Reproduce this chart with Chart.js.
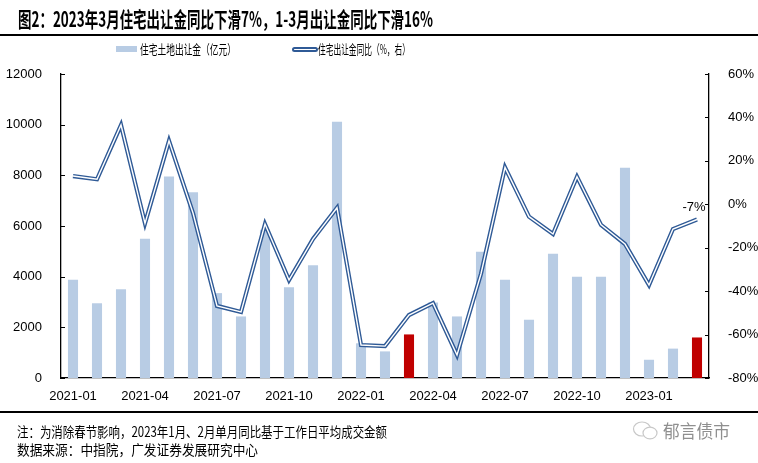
<!DOCTYPE html>
<html>
<head>
<meta charset="utf-8">
<script src="https://cdn.jsdelivr.net/npm/chart.js@4.4.1/dist/chart.umd.min.js"></script>
<style>
body{margin:0;background:#fff;}
#wrap{position:relative;width:758px;height:463px;overflow:hidden;font-family:"Noto Sans CJK SC",sans-serif;color:#000;}
#c{position:absolute;left:0;top:0;}
.t{position:absolute;white-space:nowrap;transform-origin:0 50%;line-height:1;}
.rule{position:absolute;left:0;width:758px;height:2px;background:#000;}
</style>
</head>
<body>
<div id="wrap">
  <canvas id="c" width="758" height="463"></canvas>
  <div class="t" id="title" data-w="415" style="left:18px;top:8px;font-size:21px;font-weight:700;">图2：2023年3月住宅出让金同比下滑7%，1-3月出让金同比下滑16%</div>
  <div class="rule" style="top:34px;"></div>
  <div style="position:absolute;left:116px;top:46px;width:21px;height:6px;background:#b8cce4;"></div>
  <div class="t" data-w="96" style="left:140px;top:42px;font-size:13px;">住宅土地出让金（亿元）</div>
  <div style="position:absolute;left:292px;top:47px;width:22px;height:1px;border:2px solid #2f5a96;border-radius:3px;background:#fff;"></div>
  <div class="t" data-w="92" style="left:318px;top:42px;font-size:13px;">住宅出让金同比（%，右）</div>
  <div class="rule" style="top:411px;"></div>
  <div class="t" data-w="370" style="left:17px;top:424px;font-size:14px;">注：为消除春节影响，2023年1月、2月单月同比基于工作日平均成交金额</div>
  <div class="t" data-w="241" style="left:17px;top:442px;font-size:14px;">数据来源：中指院，广发证券发展研究中心</div>
  <svg style="position:absolute;left:632px;top:420px;" width="28" height="22" viewBox="0 0 28 22">
    <ellipse cx="10" cy="9" rx="8.5" ry="7" fill="none" stroke="#c8c8c8" stroke-width="1.2"/>
    <ellipse cx="18" cy="13" rx="7" ry="5.8" fill="#fff" stroke="#c8c8c8" stroke-width="1.2"/>
  </svg>
  <div class="t" data-w="67" style="left:663px;top:421px;font-size:18px;color:#8f8f8f;">郁言债市</div>
</div>
<script>
// 2021-01 .. 2023-03
const months = ['2021-01','2021-02','2021-03','2021-04','2021-05','2021-06','2021-07','2021-08','2021-09','2021-10','2021-11','2021-12',
  '2022-01','2022-02','2022-03','2022-04','2022-05','2022-06','2022-07','2022-08','2022-09','2022-10','2022-11','2022-12',
  '2023-01','2023-02','2023-03'];
const landSales = [3880,2950,3500,5500,7950,7330,3350,2430,5850,3580,4450,10120,
  1370,1050,1720,2980,2430,4980,3880,2300,4900,4000,4000,8300,
  720,1160,1600];
const yoy = [13,11.5,36.5,-8.8,29.2,-4,-46.8,-49.6,-9.1,-34.9,-16,-1.6,
  -64.8,-65.3,-51,-45.5,-69.4,-32,17,-5.7,-13.7,12.7,-9.5,-18.3,
  -37.2,-11.4,-7];
const redMonths = ['2022-03','2023-03'];
const leftTicks = [0,2000,4000,6000,8000,10000,12000];
const rightTicks = [-80,-60,-40,-20,0,20,40,60];
const lastLabel = '-7%';

// squeeze text to the widths in the picture
document.querySelectorAll('.t[data-w]').forEach(el=>{
  const w = el.getBoundingClientRect().width;
  el.style.transform = 'scaleX(' + (+el.dataset.w / w) + ')';
});

const tickFont = {family:'"Liberation Sans", Arial, sans-serif', size:13};
const barColors = months.map(m=>redMonths.includes(m) ? '#c00000' : '#b8cce4');

const innerTicks = {
  id:'innerTicks',
  afterDraw(chart){
    const ctx = chart.ctx, y = chart.scales.y, y1 = chart.scales.y1;
    ctx.save(); ctx.strokeStyle='#000'; ctx.lineWidth=1;
    leftTicks.forEach(v=>{ const p = Math.round(y.getPixelForValue(v))+0.5; ctx.beginPath(); ctx.moveTo(y.right,p); ctx.lineTo(y.right+4,p); ctx.stroke(); });
    rightTicks.forEach(v=>{ const p = Math.round(y1.getPixelForValue(v))+0.5; ctx.beginPath(); ctx.moveTo(y1.left-4,p); ctx.lineTo(y1.left,p); ctx.stroke(); });
    // label on last point
    const meta = chart.getDatasetMeta(1);
    const pt = meta.data[meta.data.length-1];
    ctx.fillStyle='#000'; ctx.font='13px "Liberation Sans", Arial, sans-serif';
    ctx.textAlign='center'; ctx.textBaseline='middle';
    ctx.fillText(lastLabel, pt.x-3, pt.y-12);
    ctx.restore();
  }
};

new Chart(document.getElementById('c'),{
  data:{labels:months,datasets:[
    {type:'bar',data:landSales,backgroundColor:barColors,yAxisID:'y',order:3,categoryPercentage:1,barPercentage:0.42},
    {type:'line',data:yoy,yAxisID:'y1',order:2,borderColor:'#2f5a96',borderWidth:4.2,pointRadius:0,tension:0,borderJoinStyle:'miter'},
    {type:'line',data:yoy,yAxisID:'y1',order:1,borderColor:'#ffffff',borderWidth:1.4,pointRadius:0,tension:0,borderJoinStyle:'miter'}
  ]},
  options:{
    responsive:false,animation:false,
    layout:{padding:{left:0,right:0,top:74,bottom:60}},
    plugins:{legend:{display:false},tooltip:{enabled:false}},
    scales:{
      x:{grid:{display:false},border:{color:'#000',width:1.3},
        ticks:{autoSkip:false,maxRotation:0,padding:3,color:'#000',font:tickFont,
          callback:(v,i)=>i%3===0?months[i]:''},
        afterFit:s=>{s.height=25;}},
      y:{position:'left',min:0,max:12000,grid:{display:false},border:{color:'#000',width:1.3},
        ticks:{stepSize:2000,padding:11,color:'#000',font:tickFont,callback:v=>String(v)},
        afterFit:s=>{s.width=61;}},
      y1:{position:'right',min:-80,max:60,grid:{display:false},border:{color:'#000',width:1.3},
        ticks:{stepSize:20,padding:11,color:'#000',font:tickFont,callback:v=>v+'%'},
        afterFit:s=>{s.width=49;}}
    }
  },
  plugins:[innerTicks]
});
</script>
</body>
</html>
